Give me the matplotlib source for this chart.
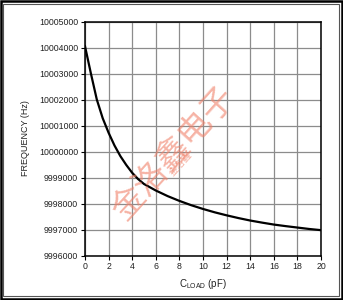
import matplotlib
matplotlib.use('Agg')
import matplotlib.pyplot as plt
from matplotlib.patches import Rectangle

plt.rcParams['font.family'] = ['Liberation Sans', 'DejaVu Sans']
plt.rcParams['mathtext.fontset'] = 'custom'
plt.rcParams['mathtext.rm'] = 'Liberation Sans'

# values
c_load = [0, 0.5, 1, 1.5, 2, 2.5, 3, 3.5, 4, 4.5, 5, 6, 7, 8, 9, 10,
          11, 12, 13, 14, 15, 16, 17, 18, 19, 20]
freq = [10004050, 10003000, 10002000, 10001280, 10000720, 10000230,
        9999820, 9999480, 9999180, 9998940, 9998750, 9998500, 9998285,
        9998100, 9997935, 9997790, 9997660, 9997545, 9997440, 9997345,
        9997265, 9997190, 9997130, 9997075, 9997020, 9996975]

x_ticks = list(range(0, 21, 2))
y_ticks = list(range(9996000, 10005001, 1000))
watermark = '金洛鑫电子'
watermark_small = '金洛鑫'

fig = plt.figure(figsize=(3.43, 3.0), dpi=100)
ax = fig.add_axes([85 / 343, 1 - 255.5 / 300, 236 / 343, 234 / 300])

ax.plot(c_load, freq, color='black', lw=1.6, zorder=3)

ax.set_xlim(0, 20)
ax.set_ylim(9996000, 10005000)
ax.set_xticks(x_ticks)
ax.set_yticks(y_ticks)
ax.set_yticklabels([str(v) for v in y_ticks])
ax.grid(True, color='#8c8c8c', lw=0.9)
ax.set_axisbelow(True)
for s in ax.spines.values():
    s.set_color('black')
    s.set_linewidth(1.1)
ax.tick_params(direction='out', length=3, width=0.8, labelsize=6.3,
               colors='black', labelcolor='#222222', pad=2)

ax.set_ylabel('FREQUENCY (Hz)', fontsize=6.5, color='#222222', labelpad=6)
ax.set_xlabel(r'C$_{\mathrm{LOAD}}$ (pF)', fontsize=7, color='#222222', labelpad=4)

# watermark
fig.text(174 / 343, 1 - 154 / 300, watermark, rotation=48, fontsize=24,
         color='#f08068', alpha=0.6, ha='center', va='center',
         family=['Noto Sans CJK SC'], fontweight='light', zorder=5)
fig.text(180 / 343, 1 - 163 / 300, watermark_small, rotation=48, fontsize=7,
         color='#f08068', alpha=0.6, ha='center', va='center',
         family=['Noto Sans CJK SC'], zorder=5)

# image frames
fig.patches.append(Rectangle((0.002, 0.003), 0.996, 0.994, transform=fig.transFigure,
                             fill=False, edgecolor='black', lw=1.8))
fig.patches.append(Rectangle((3 / 343, 4 / 300), 336 / 343, 292 / 300,
                             transform=fig.transFigure, fill=False,
                             edgecolor='#555555', lw=0.8))

fig.savefig('out.png', dpi=100)
